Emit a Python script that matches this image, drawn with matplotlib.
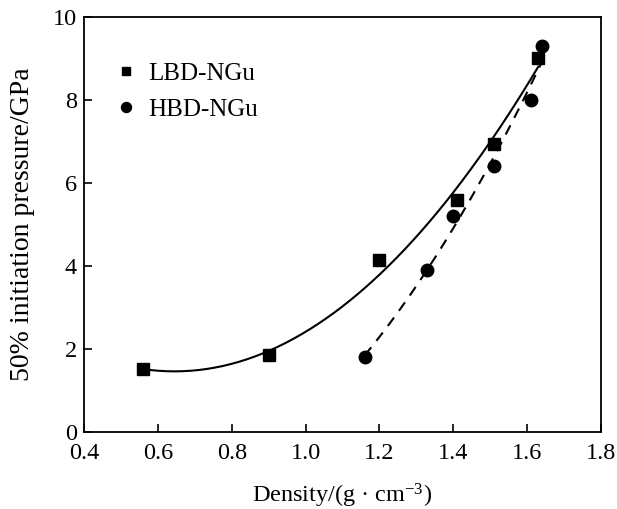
import numpy as np
import matplotlib.pyplot as plt

plt.rcParams['font.family'] = ['Liberation Serif', 'DejaVu Serif']
plt.rcParams['mathtext.fontset'] = 'custom'
plt.rcParams['mathtext.rm'] = 'Liberation Serif'
plt.rcParams['mathtext.it'] = 'Liberation Serif:italic'

# measured points
lbd_density = [0.56, 0.90, 1.20, 1.41, 1.51, 1.63]
lbd_pressure = [1.52, 1.85, 4.15, 5.60, 6.95, 9.00]
hbd_density = [1.16, 1.33, 1.40, 1.51, 1.61, 1.64]
hbd_pressure = [1.80, 3.90, 5.20, 6.40, 8.00, 9.30]

fig = plt.figure(figsize=(6.17, 5.09), dpi=100)
ax = fig.add_axes([0.1361, 0.1513, 0.838, 0.8153])

# quadratic trend lines through each series
coef = np.polyfit(lbd_density, lbd_pressure, 2)
xx = np.linspace(min(lbd_density), max(lbd_density), 200)
ax.plot(xx, np.polyval(coef, xx), color='black', lw=1.5)

coef = np.polyfit(hbd_density, hbd_pressure, 2)
xx = np.linspace(min(hbd_density), max(hbd_density), 200)
ax.plot(xx, np.polyval(coef, xx), color='black', lw=1.5, ls='--', dashes=(5, 4))

ax.plot(lbd_density, lbd_pressure, 's', color='black', ms=8, label='LBD-NGu')
ax.plot(hbd_density, hbd_pressure, 'o', color='black', ms=9, label='HBD-NGu')

ax.set_xlim(0.4, 1.8)
ax.set_ylim(0, 10)
ax.set_xticks(np.arange(0.4, 1.81, 0.2))
ax.set_xticklabels(['0.4', '0.6', '0.8', '1.0', '1.2', '1.4', '1.6', '1.8'])
ax.set_yticks([0, 2, 4, 6, 8, 10])
ax.tick_params(direction='in', length=6, width=1.2, labelsize=17.5)
ax.tick_params(axis='x', pad=8)
ax.tick_params(axis='y', pad=5)
for s in ax.spines.values():
    s.set_linewidth(1.3)

ax.set_xlabel('Density/(g · cm$^{-3}$)', fontsize=17.5, labelpad=13)
ax.set_ylabel('50% initiation pressure/GPa', fontsize=20, labelpad=13)

ax.legend(loc='center left', bbox_to_anchor=(0.013, 0.82), frameon=False,
          fontsize=18, handletextpad=0.4, handlelength=1.0, labelspacing=0.55,
          markerscale=0.8)

fig.savefig('out.png', dpi=100)
